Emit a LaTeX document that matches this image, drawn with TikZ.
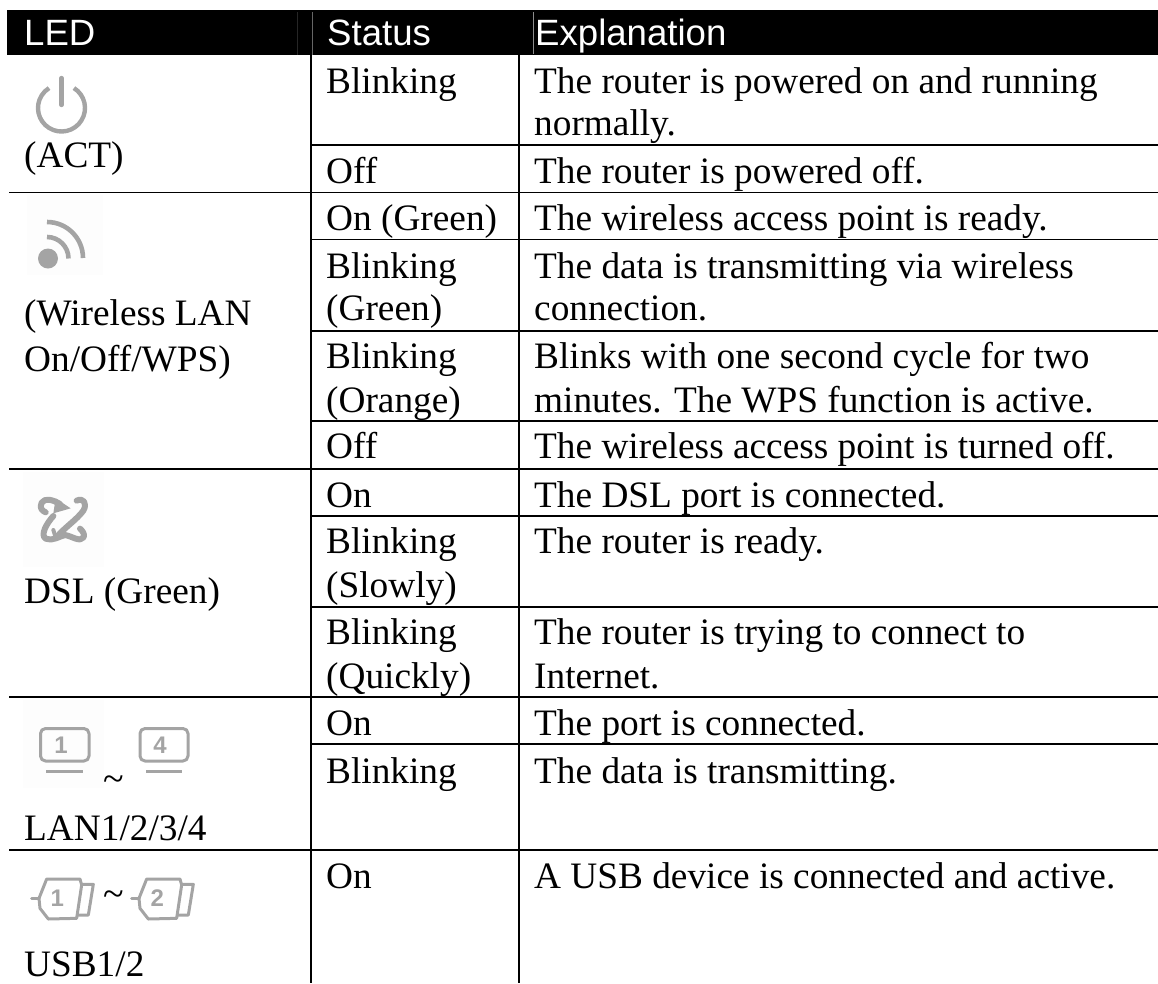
\documentclass[tikz,border=0pt]{standalone}
\usepackage{fontspec}
\setmainfont{Liberation Serif}
\newfontfamily\hdfont{Liberation Sans}
\definecolor{icogray}{HTML}{A4A4A4}
\definecolor{icobg}{HTML}{FDFDFD}
\begin{document}
\begin{tikzpicture}[x=1pt,y=-1pt,
  rulel/.style={line width=1.7pt,black},
  cell/.style={anchor=base west,inner sep=0pt,font=\fontsize{37.3}{37.3}\selectfont},
  hd/.style={anchor=base west,inner sep=0pt,text=white,font=\hdfont\fontsize{36.6}{36.6}\selectfont},
  ico/.style={line width=3.2pt,draw=icogray,line cap=round,line join=round},
  icothin/.style={line width=3pt,draw=icogray,line cap=round,line join=round},
  digit/.style={inner sep=0pt,text=icogray,font=\hdfont\bfseries\fontsize{24}{24}\selectfont},
  tildet/.style={inner sep=0pt,font=\fontsize{38}{38}\selectfont}]
\useasboundingbox (0,0) rectangle (1158,983);
% header
\fill[black] (7,10) rectangle (1158,55);
\draw[black!60,line width=.5pt] (312,12)--(312,55);
\draw[black!45,line width=.5pt] (533.5,12)--(533.5,54);
\draw[black!85,line width=.5pt] (297,12)--(297,55);
\node[hd] (h1) at (24,45) {LED};
\node[hd] (h2) at (327,45) {Status};
\node[hd] (h3) at (535,45) {Explanation};
% icon backgrounds
\fill[icobg] (27,195) rectangle (103,275);
\fill[icobg] (23,472) rectangle (104,567);
\fill[icobg] (23,700) rectangle (104,788);
% rules
\draw[rulel] (311,55)--(311,983) (519,55)--(519,983);
\draw[rulel] (9,192.5)--(1158,192.5) (9,469)--(1158,469) (9,697)--(1158,697) (9,850)--(1158,850);
\draw[rulel] (311,145)--(1158,145) (311,239.5)--(1158,239.5) (311,331)--(1158,331) (311,421)--(1158,421)
 (311,516)--(1158,516) (311,607)--(1158,607) (311,744)--(1158,744);
% power icon
\draw[ico,line width=4.4pt,line cap=butt] (61.5,108) ++(-58:23.5) arc[start angle=-58,end angle=238,radius=23.5];
\draw[ico,line width=4.4pt] (61.5,78)--(61.5,105);
% wireless icon
\fill[icogray] (48,258.5) circle[radius=10];
\draw[ico,line width=4.6pt,line cap=butt] (47,222) arc[start angle=-90,end angle=0,radius=36];
\draw[ico,line width=4.6pt,line cap=butt] (47,237) arc[start angle=-90,end angle=0,radius=21.5];
% DSL icon
\begin{scope}[shift={(25,480)},x=.3333pt,y=-.3333pt]
\draw[ico,line width=6pt] (105,72) .. controls (85,60) and (60,52) .. (50,68) .. controls (42,85) and (52,92) .. (62,97);
\fill[icogray] (92,55)--(137,85)--(85,100)--cycle;
\draw[ico,line width=6pt] (85,108) .. controls (65,130) and (45,165) .. (62,176) .. controls (82,185) and (105,168) .. (120,165) .. controls (140,168) and (165,188) .. (176,172) .. controls (180,162) and (172,152) .. (165,146);
\draw[ico,line width=6pt] (155,62) .. controls (175,52) and (188,70) .. (175,92) .. controls (155,120) and (115,145) .. (95,172);
\draw[ico,line width=4pt] (85,150)--(92,172);
\end{scope}
% LAN icons
\draw[icothin] (40.5,728.5) [rounded corners=5pt] rectangle (89,761);
\draw[icothin,line cap=butt] (46,771)--(83,771);
\node[digit] (lan1) at (61,745) {1};
\draw[icothin] (140,728.5) [rounded corners=5pt] rectangle (188,761);
\draw[icothin,line cap=butt] (146,771)--(182,771);
\node[digit] (lan4) at (160,745) {4};
\node[tildet] (tilde1) at (113.5,784) {\textasciitilde};
% USB icons
\foreach \dx/\n in {0/1,100/2}{
\begin{scope}[shift={(25+\dx,865)},x=.3333pt,y=-.3333pt]
\draw[icothin] (20,100)--(42,100);
\draw[icothin] (42,100)--(65,42)--(165,42)--(170,60)--(155,160)--(70,162)--(45,130)--cycle;
\draw[icothin] (170,58)--(205,58)--(190,150)--(158,150);
\node[digit] at (97,100) {\n};
\end{scope}}
\node[tildet] (tilde2) at (113.5,899) {\textasciitilde};
% status column
\node[cell] (s1) at (326,93) {Blinking};
\node[cell] (s2) at (326,183) {Off};
\node[cell] (s3) at (326,230) {On (Green)};
\node[cell] (s4) at (326,278) {Blinking};
\node[cell] (s5) at (326,320) {(Green)};
\node[cell] (s6) at (326,368) {Blinking};
\node[cell] (s7) at (326,412) {(Orange)};
\node[cell] (s8) at (326,458) {Off};
\node[cell] (s9) at (326,507) {On};
\node[cell] (s10) at (326,553) {Blinking};
\node[cell] (s11) at (326,597) {(Slowly)};
\node[cell] (s12) at (326,644) {Blinking};
\node[cell] (s13) at (326,688) {(Quickly)};
\node[cell] (s14) at (326,735) {On};
\node[cell] (s15) at (326,783) {Blinking};
\node[cell] (s16) at (326,888) {On};
% explanation column
\node[cell] (e1) at (534,93) {The router is powered on and running};
\node[cell] (e2) at (534,135) {normally.};
\node[cell] (e3) at (534,183) {The router is powered off.};
\node[cell] (e4) at (534,230) {The wireless access point is ready.};
\node[cell] (e5) at (534,278) {The data is transmitting via wireless};
\node[cell] (e6) at (534,320) {connection.};
\node[cell] (e7) at (534,368) {Blinks with one second cycle for two};
\node[cell] (e8) at (534,412) {minutes. The WPS function is active.};
\node[cell] (e9) at (534,458) {The wireless access point is turned off.};
\node[cell] (e10) at (534,507) {The DSL port is connected.};
\node[cell] (e11) at (534,553) {The router is ready.};
\node[cell] (e12) at (534,644) {The router is trying to connect to};
\node[cell] (e13) at (534,688) {Internet.};
\node[cell] (e14) at (534,735) {The port is connected.};
\node[cell] (e15) at (534,783) {The data is transmitting.};
\node[cell] (e16) at (534,888) {A USB device is connected and active.};
% LED column
\node[cell] (l1) at (24,167) {(ACT)};
\node[cell] (l2) at (24,325) {(Wireless LAN};
\node[cell] (l3) at (24,371) {On/Off/WPS)};
\node[cell] (l4) at (24,603) {DSL (Green)};
\node[cell] (l5) at (24,840) {LAN1/2/3/4};
\node[cell] (l6) at (24,976) {USB1/2};
\end{tikzpicture}
\end{document}
